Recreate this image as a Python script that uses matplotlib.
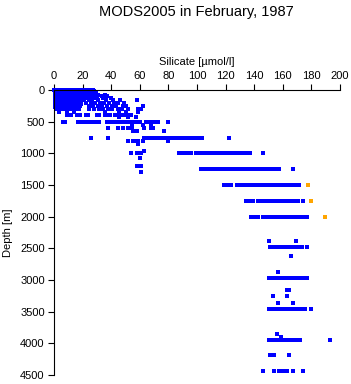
import matplotlib
matplotlib.use("Agg")
import matplotlib.pyplot as plt

plt.rcParams['font.family'] = ['Liberation Sans', 'DejaVu Sans']

si_0 = [0.3, 1.2, 2.0, 3.1, 4.4, 5.0, 6.2, 7.5, 8.3, 9.6, 10.4, 11.8, 12.5, 13.9, 15.2, 16.0, 17.4, 18.6, 21.5, 24.8, 27.0]
si_10 = [0.5, 1.8, 2.9, 4.1, 5.3, 6.6, 7.7, 8.9, 10.2, 11.3, 12.7, 14.0, 15.6, 17.1, 19.0, 22.3, 26.1]
si_20 = [0.4, 1.6, 2.7, 3.8, 5.1, 6.4, 7.6, 9.0, 10.1, 11.5, 12.8, 14.4, 16.2, 18.1, 23.0, 25.5, 27.8]
si_30 = [0.8, 2.2, 3.5, 4.9, 6.0, 7.3, 8.6, 9.8, 11.0, 12.4, 13.6, 15.1, 16.9, 20.3, 24.0, 28.6]
si_50 = [0.6, 1.9, 3.2, 4.5, 5.7, 7.0, 8.2, 9.5, 10.8, 12.1, 13.3, 14.7, 16.4, 18.3, 21.0, 23.8, 26.5, 29.5]
si_75 = [0.9, 2.3, 3.6, 4.8, 6.1, 7.4, 8.8, 10.0, 11.4, 12.9, 14.2, 15.8, 17.6, 20.5, 22.7, 25.9, 28.2, 31.0, 35.5]
si_100 = [0.7, 2.0, 3.4, 4.6, 5.9, 7.1, 8.5, 9.7, 11.1, 12.3, 13.8, 15.4, 17.0, 19.5, 22.0, 24.6, 27.4, 30.2, 33.8, 37.0]
si_125 = [1.0, 2.5, 3.9, 5.2, 6.5, 7.9, 9.2, 10.6, 11.9, 13.4, 15.0, 16.6, 18.8, 21.7, 25.1, 29.0, 34.5, 39.8]
si_150 = [0.9, 2.4, 3.7, 5.0, 6.3, 7.7, 9.1, 10.3, 11.7, 13.1, 14.5, 16.1, 17.9, 20.8, 24.3, 26.8, 30.5, 36.2, 41.0, 46.5, 58.0]
si_175 = [0.5, 1.9, 3.3, 4.8, 6.0, 7.5, 8.9, 10.4, 11.8, 13.2, 14.8, 16.5, 18.2]
si_200 = [1.2, 2.6, 4.0, 5.4, 6.8, 8.1, 9.4, 10.9, 12.2, 13.7, 15.3, 17.2, 19.2, 22.5, 25.7, 28.9, 32.0, 35.0, 38.6, 42.2, 45.0, 49.0]
si_225 = [0.6, 2.1, 3.5, 5.0, 6.4, 7.9, 9.3, 10.7, 12.3, 13.8, 15.4, 17.0, 18.7]
si_250 = [1.1, 2.8, 4.2, 5.6, 7.2, 8.7, 10.1, 11.6, 13.0, 14.6, 16.3, 18.0, 24.2, 27.1, 30.8, 33.5, 36.8, 40.4, 43.7, 48.1, 50.5, 62.5]
si_275 = [0.7, 2.2, 3.7, 5.1, 6.6, 8.0, 9.6, 11.0, 12.6, 14.1, 15.8, 17.3]
si_300 = [1.5, 3.0, 4.7, 6.2, 7.8, 9.3, 10.7, 12.0, 13.5, 15.5, 17.5, 24.5, 28.0, 31.7, 34.2, 37.5, 40.8, 44.5, 47.3, 51.5, 59.0, 61.0]
si_350 = [3.5, 9.0, 14.0, 36.0, 45.5, 50.0, 59.0]
si_400 = [9.0, 10.5, 12.0, 16.0, 18.0, 22.5, 24.0, 30.0, 31.5, 36.0, 37.5, 39.0, 43.0, 44.5, 46.0, 47.5, 50.0, 51.5, 53.0, 54.0]
si_430 = [45.5, 52.0, 57.0]
si_500 = [6.0, 7.5, 17.0, 18.5, 20.0, 21.5, 23.0, 25.0, 26.5, 28.0, 30.0, 31.5, 37.0, 38.5, 41.0, 42.5, 44.0,
          45.5, 47.0, 48.5, 50.0, 51.5, 53.0, 55.0, 57.0, 58.5, 60.0, 64.0, 65.5, 67.0, 68.5, 70.0, 73.0, 80.0]
si_560 = [54.5, 62.5, 68.0]
si_600 = [38.0, 45.0, 48.5, 51.6, 54.4, 62.6, 68.0, 69.5]
si_650 = [55.0, 58.0, 76.6]
si_750 = [26.0, 38.0, 62.6, 64.5, 66.0, 67.2, 68.5, 70.0, 71.3, 72.6, 74.0, 75.4, 76.8, 78.0, 79.5, 81.0, 82.3,
          83.6, 85.0, 86.4, 87.8, 89.0, 90.5, 91.9, 93.2, 94.6, 96.0, 97.3, 98.7, 100.5, 102.5, 103.8, 122.5]
si_800 = [52.0, 55.5, 57.0, 59.0, 62.0, 80.0]
si_860 = [59.0]
si_960 = [63.0]
si_1000 = [54.0, 58.0, 59.5, 61.0, 87.5, 89.0, 90.5, 92.5, 94.0, 95.8, 99.0, 100.5, 102.5, 105.0, 106.4, 107.8,
           109.2, 110.6, 112.0, 113.5, 115.0, 117.0, 118.5, 120.0, 121.5, 123.2, 125.2, 126.6, 128.0, 129.5,
           131.0, 132.3, 134.0, 135.5, 137.0, 146.0]
si_1080 = [60.0]
si_1200 = [58.0, 59.5, 61.0]
si_1250 = [103.0, 104.5, 106.0, 107.5, 109.0, 110.5, 113.0, 114.8, 117.5, 119.5, 121.0, 122.5, 124.0, 126.2,
           127.8, 129.2, 130.6, 132.0, 133.4, 134.8, 136.2, 137.6, 139.2, 141.5, 143.2, 144.6, 146.0, 147.4,
           148.8, 150.2, 151.6, 153.0, 154.4, 155.8, 157.5, 167.0]
si_1300 = [61.0]
si_1500 = [119.0, 120.5, 122.0, 123.8, 128.0, 129.5, 131.0, 132.6, 134.3, 135.8, 137.2, 138.5, 140.0, 141.4,
           142.8, 144.2, 145.6, 147.0, 148.4, 149.8, 151.2, 152.6, 154.0, 155.4, 156.8, 158.2, 159.6, 161.0,
           162.5, 165.0, 166.5, 168.0, 170.0, 171.5]
si_1750 = [134.0, 135.8, 137.3, 139.0, 142.4, 145.0, 146.4, 147.8, 149.2, 150.6, 152.0, 153.4, 154.8, 156.2,
           157.6, 159.0, 160.4, 161.8, 163.5, 165.0, 166.5, 168.0, 170.3, 174.0]
si_2000 = [138.0, 139.5, 141.0, 142.5, 146.0, 147.4, 148.8, 150.2, 151.6, 153.0, 154.4, 155.8, 157.2, 158.6,
           160.0, 161.4, 162.8, 164.2, 165.6, 167.0, 168.4, 169.8, 171.2, 172.6, 174.2, 177.0]
si_2380 = [150.0, 169.0]
si_2480 = [151.0, 152.4, 153.8, 155.2, 156.6, 158.0, 159.4, 160.8, 162.2, 163.6, 165.0, 166.4, 167.8, 169.2,
           170.6, 172.0, 173.6, 177.0]
si_2625 = [165.5]
si_2870 = [156.7]
si_2970 = [150.0, 151.4, 152.8, 154.2, 155.6, 157.0, 158.4, 159.8, 161.2, 162.6, 164.0, 165.4, 166.8, 168.2,
           169.6, 171.0, 172.4, 173.8, 175.2, 176.6]
si_3160 = [163.0, 164.5]
si_3255 = [153.0, 162.7]
si_3360 = [156.7, 167.0]
si_3460 = [150.5, 152.0, 153.4, 154.8, 156.2, 157.6, 159.0, 160.4, 163.0, 164.4, 165.8, 167.2, 168.6, 170.0,
           171.4, 172.8, 174.2, 175.6, 179.6]
si_3845 = [155.7]
si_3900 = [159.0]
si_3945 = [150.0, 151.5, 153.0, 155.0, 156.5, 158.0, 159.5, 161.0, 162.5, 164.0, 165.5, 167.0, 168.5, 170.0,
           171.8, 193.0]
si_4180 = [150.7, 154.0, 164.0]
si_4430 = [146.0, 154.0, 157.0, 158.5, 160.0, 161.5, 163.0, 167.0, 174.0]

# flagged readings (orange)
flag_depth = [1500, 1750, 2000]
flag_si = [177.5, 179.6, 189.6]

blue_rows = [(0, si_0), (10, si_10), (20, si_20), (30, si_30), (50, si_50), (75, si_75), (100, si_100),
             (125, si_125), (150, si_150), (175, si_175), (200, si_200), (225, si_225), (250, si_250),
             (275, si_275), (300, si_300), (350, si_350),
             (400, si_400), (430, si_430), (500, si_500), (560, si_560), (600, si_600), (650, si_650),
             (750, si_750), (800, si_800), (860, si_860), (960, si_960), (1000, si_1000), (1080, si_1080),
             (1200, si_1200), (1250, si_1250), (1300, si_1300), (1500, si_1500), (1750, si_1750),
             (2000, si_2000), (2380, si_2380), (2480, si_2480), (2625, si_2625), (2870, si_2870),
             (2970, si_2970), (3160, si_3160), (3255, si_3255), (3360, si_3360), (3460, si_3460),
             (3845, si_3845), (3900, si_3900), (3945, si_3945), (4180, si_4180), (4430, si_4430)]

blue_x = []
blue_y = []
for d, vals in blue_rows:
    blue_x += vals
    blue_y += [d] * len(vals)

fig = plt.figure(figsize=(3.51, 3.84), dpi=100)
ax = fig.add_axes([54 / 351, 1 - 375 / 384, 286 / 351, 285 / 384])

ax.plot(blue_x, blue_y, linestyle='none', marker='s', markersize=2.5,
        markeredgewidth=0, color='#0000ff', clip_on=False)
ax.plot(flag_si, flag_depth, linestyle='none', marker='s', markersize=2.5,
        markeredgewidth=0, color='#ffa500', clip_on=False)

ax.set_xlim(0, 200)
ax.set_ylim(4500, 0)
ax.set_xticks(range(0, 201, 20))
ax.set_yticks(range(0, 4501, 500))

ax.xaxis.tick_top()
ax.xaxis.set_label_position('top')
ax.spines['right'].set_visible(False)
ax.spines['bottom'].set_visible(False)
for s in ('left', 'top'):
    ax.spines[s].set_linewidth(0.8)
ax.tick_params(direction='out', length=4.2, width=0.8, labelsize=8, pad=2.5)

ax.set_xlabel('Silicate [µmol/l]', fontsize=8, labelpad=4)
ax.set_ylabel('Depth [m]', fontsize=8, labelpad=5)
fig.text(0.56, 0.968, 'MODS2005 in February, 1987', ha='center', va='center', fontsize=10.5)

fig.savefig('out.png', dpi=100)
